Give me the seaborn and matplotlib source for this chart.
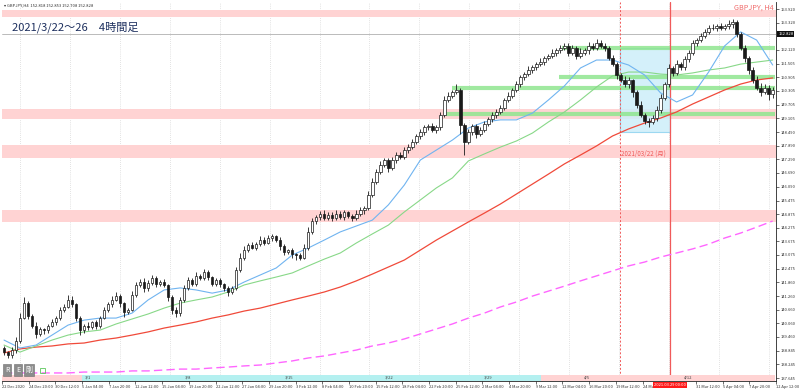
import numpy as np
import pandas as pd
import matplotlib
matplotlib.use("Agg")
import matplotlib.pyplot as plt
import seaborn as sns
from matplotlib.patches import Rectangle

# --- GBPJPY H4 (one candle ~ 4 px) ---
close = [138.8, 138.65, 138.9, 139.3, 140.3, 140.95, 140.4, 139.95, 139.6, 139.8,
         139.75, 139.95, 140.1, 140.3, 140.65, 140.8, 141.1, 140.9, 140.3, 139.75,
         139.95, 139.9, 140.1, 139.95, 140.3, 140.65, 140.9, 141.1, 141.25, 140.95,
         140.55, 140.65, 141.3, 141.75, 141.9, 141.6, 141.85, 142.05, 141.8, 141.9,
         141.75, 141.2, 140.65, 140.5, 141.1, 141.6, 141.95, 141.8, 142.15, 142.05,
         142.3, 142.1, 141.8, 141.95, 141.8, 141.6, 141.45, 141.6, 142.4, 142.95,
         143.3, 143.5, 143.4, 143.55, 143.75, 143.6, 143.8, 143.9, 143.75, 143.45,
         143.2, 143.3, 143.1, 143.05, 142.95, 143.4, 144.1, 144.55, 144.75, 144.9,
         144.7, 144.85, 144.7, 144.9, 144.75, 144.95, 144.8, 144.7, 144.9, 145.05,
         145.15, 145.7, 146.3, 146.75, 147.05, 147.25, 146.9, 147.25, 147.5, 147.4,
         147.7, 147.85, 148.05, 148.3, 148.5, 148.7, 148.75, 148.6, 148.7, 149.25,
         149.9, 150.1, 150.25, 150.35, 148.8, 148.05, 148.5, 148.75, 148.4, 148.6,
         148.85, 149.05, 149.25, 149.4, 149.55, 149.9, 150.1, 150.35, 150.6, 150.9,
         151.05, 151.25, 151.35, 151.5, 151.6, 151.75, 151.85, 152.0, 152.1, 152.2,
         152.3, 152.0, 152.2, 151.85, 152.0, 152.1, 152.3, 152.2, 152.4, 152.3,
         152.2, 151.75, 151.5, 151.0, 150.8, 150.6, 150.8, 150.25, 149.7, 149.25,
         149.0, 148.95, 149.1, 149.45, 150.0, 150.6, 151.3, 151.1, 151.5, 151.35,
         151.7, 152.0, 152.4, 152.55, 152.75, 152.9, 153.1, 153.1, 153.15, 153.1,
         153.15, 153.25, 153.35, 152.8, 152.2, 151.75, 151.25, 150.8, 150.45, 150.25,
         150.45, 150.15, 150.35]
first_open = 138.95
# wick lengths in 0.05 yen units
wick_hi = [2, 1, 2, 3, 4, 5, 2, 1, 3, 2, 1, 2, 3, 2, 3, 2, 4, 3, 1, 2,
           2, 3, 1, 2, 2, 3, 2, 3, 4, 2, 1, 2, 4, 3, 2, 3, 2, 3, 2, 1,
           2, 1, 2, 3, 2, 3, 3, 2, 3, 2, 3, 2, 1, 2, 2, 1, 2, 2, 3, 4,
           3, 2, 3, 2, 3, 2, 3, 2, 1, 2, 2, 1, 2, 1, 2, 3, 4, 3, 2, 2,
           3, 2, 2, 3, 2, 2, 1, 2, 3, 3, 2, 4, 3, 2, 3, 2, 2, 3, 2, 2,
           3, 2, 3, 2, 3, 2, 2, 3, 2, 3, 4, 3, 2, 5, 2, 2, 3, 2, 2, 2,
           3, 2, 3, 2, 3, 2, 3, 2, 3, 2, 2, 3, 2, 2, 3, 2, 2, 3, 2, 3,
           2, 2, 3, 2, 4, 2, 3, 2, 4, 3, 2, 2, 3, 2, 2, 3, 2, 1, 2, 3,
           2, 2, 3, 4, 3, 2, 4, 2, 3, 2, 3, 2, 3, 2, 2, 3, 2, 3, 2, 3,
           2, 4, 3, 2, 2, 3, 2, 2, 3, 4, 3, 2, 3]
wick_lo = [3, 2, 2, 3, 2, 1, 3, 2, 4, 2, 3, 2, 1, 2, 2, 2, 1, 2, 3, 4,
           2, 3, 2, 3, 2, 1, 2, 2, 1, 3, 4, 2, 1, 2, 2, 3, 2, 2, 3, 2,
           2, 3, 4, 3, 2, 2, 1, 2, 2, 2, 2, 3, 2, 2, 3, 2, 4, 2, 1, 2,
           2, 2, 1, 2, 2, 2, 1, 2, 2, 3, 3, 2, 3, 4, 2, 1, 2, 2, 2, 3,
           2, 2, 3, 2, 2, 3, 2, 3, 2, 2, 3, 2, 1, 2, 2, 2, 3, 2, 2, 2,
           2, 3, 2, 2, 2, 3, 2, 2, 3, 2, 2, 2, 2, 2, 8, 11, 2, 3, 3, 2,
           2, 2, 2, 3, 2, 2, 2, 2, 2, 2, 2, 2, 3, 2, 2, 3, 2, 2, 3, 2,
           2, 3, 2, 3, 2, 2, 3, 2, 2, 2, 3, 2, 2, 3, 2, 2, 3, 4, 3, 2,
           3, 5, 2, 2, 2, 2, 2, 3, 2, 2, 2, 2, 2, 2, 2, 2, 2, 2, 3, 2,
           2, 2, 3, 2, 2, 3, 4, 3, 2, 3, 2, 5, 3]

# moving averages, sampled every 4 candles
ma_idx = list(range(0, 193, 4))
ma_blue = [139.32, 138.97, 139.10, 139.54, 139.98, 140.20, 140.29, 140.29, 140.51, 141.09,
           141.53, 141.62, 141.53, 141.39, 141.53, 141.88, 142.19, 142.50, 143.07, 143.38,
           143.73, 144.09, 144.35, 144.61, 145.28, 146.16, 147.26, 147.70, 148.14, 148.67,
           148.94, 149.03, 149.03, 149.33, 149.91, 150.53, 151.32, 151.67, 151.67, 151.45,
           151.01, 150.22, 149.82, 150.13, 151.14, 152.29, 152.91, 152.55, 151.45]
ma_green = [139.10, 138.79, 139.06, 139.32, 139.54, 139.68, 139.76, 140.03, 140.25, 140.47,
            140.73, 140.95, 141.09, 141.22, 141.44, 141.75, 141.93, 142.10, 142.28, 142.59,
            142.89, 143.16, 143.60, 144.00, 144.39, 144.97, 145.50, 146.03, 146.47, 147.22,
            147.53, 147.83, 148.10, 148.45, 148.94, 149.38, 149.91, 150.48, 150.97, 151.14,
            151.14, 151.05, 151.01, 151.10, 151.23, 151.32, 151.49, 151.58, 151.67]
ma_red = [138.75, 138.93, 139.01, 139.06, 139.15, 139.19, 139.32, 139.41, 139.54, 139.68,
          139.85, 139.98, 140.12, 140.29, 140.43, 140.60, 140.73, 140.91, 141.09, 141.26,
          141.44, 141.66, 141.93, 142.23, 142.54, 142.85, 143.29, 143.73, 144.13, 144.53,
          144.92, 145.32, 145.76, 146.20, 146.64, 147.09, 147.48, 147.88, 148.32, 148.63,
          148.89, 149.11, 149.38, 149.73, 150.04, 150.35, 150.61, 150.79, 150.88]
ma_long = [137.87, 137.87, 137.87, 137.87, 137.87, 137.91, 137.91, 137.91, 137.96, 137.96,
           138.00, 138.04, 138.04, 138.09, 138.13, 138.18, 138.22, 138.31, 138.40, 138.53,
           138.62, 138.75, 138.88, 139.06, 139.19, 139.37, 139.59, 139.81, 140.03, 140.29,
           140.51, 140.78, 141.00, 141.26, 141.48, 141.70, 141.93, 142.15, 142.37, 142.59,
           142.76, 142.98, 143.16, 143.34, 143.55, 143.82, 144.04, 144.30, 144.57]

# zones and levels
pink_zones = [(153.57, 153.88), (149.05, 149.52), (147.35, 147.92), (144.53, 145.06)]
green_levels = [152.20, 150.92, 150.44, 149.29]
green_start = [139.5, 138.7, 112.0, 110.5]
bid = 152.828

price_ticks = [153.920, 153.320, 152.120, 151.505, 150.905, 150.305, 149.705, 149.105,
               148.490, 147.890, 147.290, 146.690, 146.090, 145.475, 144.875, 144.275,
               143.675, 143.075, 142.475, 141.860, 141.260, 140.660, 140.060, 139.460,
               138.845, 138.245, 137.645]
date_labels = ["22 Dec 2020", "24 Dec 20:00", "30 Dec 12:00", "5 Jan 04:00", "7 Jan 20:00",
               "12 Jan 12:00", "15 Jan 04:00", "19 Jan 20:00", "22 Jan 12:00", "27 Jan 04:00",
               "29 Jan 20:00", "3 Feb 12:00", "8 Feb 04:00", "10 Feb 20:00", "15 Feb 12:00",
               "18 Feb 04:00", "22 Feb 20:00", "25 Feb 12:00", "2 Mar 04:00", "4 Mar 20:00",
               "9 Mar 12:00", "12 Mar 04:00", "16 Mar 20:00", "19 Mar 12:00", "24 Mar",
               "", "31 Mar 12:00", "5 Apr 04:00", "7 Apr 20:00", "12 Apr 12:00"]
week_labels = ["3/1", "3/8", "3/15", "3/22", "3/29", "4/5", "4/12"]

# week of 3/22 (box) and the 3/29 marker
box_x0, box_x1 = 153.9, 166.3
box_lo, box_hi = 148.50, 152.20

sns.set_theme(style="white")
plt.rcParams['font.family'] = ['Noto Sans CJK JP', 'DejaVu Sans']

n = len(close)
df = pd.DataFrame({"i": np.arange(n), "close": close})
df["open"] = [first_open] + close[:-1]
df["high"] = df[["open", "close"]].max(axis=1) + np.array(wick_hi) * 0.05
df["low"] = df[["open", "close"]].min(axis=1) - np.array(wick_lo) * 0.05
df["up"] = df["close"] >= df["open"]

fig = plt.figure(figsize=(8, 3.9), dpi=100)
fig.patch.set_facecolor("white")
ax = fig.add_axes([2 / 800, 1 - 381 / 390, 774 / 800, 379 / 390])
ax.set_xlim(-0.5, n - 0.5)
ax.set_ylim(137.515, 154.229)

# vertical dotted grid
for gx in np.arange(3.99, n, 12.47):
    ax.axvline(gx, color="#c8c8c8", lw=0.5, ls=(0, (1, 2)), zorder=0)

for lo, hi in pink_zones:
    ax.axhspan(lo, hi, color="#ffd3d3", lw=0, zorder=1)

ax.add_patch(Rectangle((box_x0, box_lo), box_x1 - box_x0, box_hi - box_lo,
                       facecolor="#cdeefa", edgecolor="#8fd3f0", lw=0.8, alpha=0.85, zorder=1.5))

for lvl, x0 in zip(green_levels, green_start):
    ax.hlines(lvl, x0, n - 0.5, color="#8fe68f", lw=3, alpha=0.85, zorder=2)

ax.axhline(bid, color="#b0b0b0", lw=0.6, zorder=2)

ax.axvline(box_x0, color="#f05a5a", lw=0.7, ls=(0, (2, 2)), zorder=3)
ax.axvline(box_x1, color="#f05a5a", lw=0.9, zorder=3)

# moving averages
sns.lineplot(x=ma_idx, y=ma_long, ax=ax, color="#ff66ff", lw=1.0, zorder=3)
ax.lines[-1].set_dashes((6, 3))
sns.lineplot(x=ma_idx, y=ma_red, ax=ax, color="#f04a3a", lw=0.9, zorder=3)
sns.lineplot(x=ma_idx, y=ma_green, ax=ax, color="#88d888", lw=0.8, zorder=3)
sns.lineplot(x=ma_idx, y=ma_blue, ax=ax, color="#70b4f0", lw=0.8, zorder=3)

# candles
ax.vlines(df["i"], df["low"], df["high"], color="#1a1a1a", lw=0.6, zorder=4)
up = df[df["up"]]
dn = df[~df["up"]]
ax.bar(up["i"], up["close"] - up["open"], bottom=up["open"], width=0.6,
       color="white", edgecolor="#1a1a1a", lw=0.5, zorder=5)
ax.bar(dn["i"], dn["close"] - dn["open"], bottom=dn["open"], width=0.6,
       color="#1a1a1a", edgecolor="#1a1a1a", lw=0.5, zorder=5)

# week strip along the bottom
xt = ax.get_xaxis_transform()
ax.add_patch(Rectangle((-0.5, 0), 19.95, 0.016, transform=xt, color="#ffd3d3", lw=0, zorder=6))
ax.add_patch(Rectangle((19.45, 0), 114.75, 0.016, transform=xt, color="#b4f0f0", lw=0, zorder=6))
ax.add_patch(Rectangle((134.2, 0), n - 0.5 - 134.2, 0.016, transform=xt, color="#ffd3d3", lw=0, zorder=6))
for k, lab in enumerate(week_labels):
    ax.text(20.2 + 24.94 * k, 0.009, lab, transform=xt, fontsize=3, color="#444444",
            va="center", ha="left", zorder=7)

# axes
ax.yaxis.tick_right()
ax.set_yticks(price_ticks, [f"{p:.3f}" for p in price_ticks])
ax.tick_params(axis="y", labelsize=3, length=2, width=0.5, pad=1.5, colors="#333333", right=True)
ax.set_xticks([-0.5 + k * 20 / 3 for k in range(len(date_labels))], date_labels)
ax.tick_params(axis="x", labelsize=2.9, length=2, width=0.5, pad=1.2, colors="#333333", bottom=True)
for lbl in ax.get_xticklabels():
    lbl.set_ha("left")
for s in ["left", "top"]:
    ax.spines[s].set_visible(False)
for s in ["right", "bottom"]:
    ax.spines[s].set_color("#222222")
    ax.spines[s].set_linewidth(0.6)
ax.set_xlabel("")
ax.set_ylabel("")

ax.text(1.003, bid, f"{bid:.3f}", transform=ax.get_yaxis_transform(), fontsize=3,
        color="white", va="center", ha="left",
        bbox=dict(boxstyle="square,pad=0.2", fc="#111111", ec="none"))
ax.text(box_x1, -0.006, "2021.03.29 00:00", transform=xt, fontsize=2.9, color="white",
        va="top", ha="center", bbox=dict(boxstyle="square,pad=0.2", fc="#ff1a1a", ec="none"))
ax.text(box_x0 + 0.3, 147.53, "2021/03/22 (月)", fontsize=4.5, color="#f05a5a",
        va="center", ha="left", zorder=7)

# texts
fig.text(12 / 800, 1 - 27 / 390, "2021/3/22～26　4時間足", fontsize=8, color="#1d2f5e",
         va="center", ha="left")
fig.text(774 / 800, 1 - 8 / 390, "GBPJPY, H4", fontsize=5.2, color="#f06a6a", va="center", ha="right")
fig.text(4 / 800, 1 - 5 / 390, "▾ GBPJPY,H4  152.818 152.853 152.708 152.828", fontsize=3,
         color="#333333", va="center", ha="left")
for k, b in enumerate(["R", "E", "剛"]):
    fig.text((7 + 11 * k) / 800, 1 - 370 / 390, b, fontsize=5, color="white", va="center",
             ha="center", bbox=dict(boxstyle="square,pad=0.25", fc="#8c8c8c", ec="#6c6c6c", lw=0.4))
fig.patches.append(Rectangle((40 / 800, 1 - 373 / 390), 5 / 800, 5 / 390, transform=fig.transFigure,
                             fill=False, ec="#5cc85c", lw=0.6))

fig.savefig("out.png", dpi=100)
